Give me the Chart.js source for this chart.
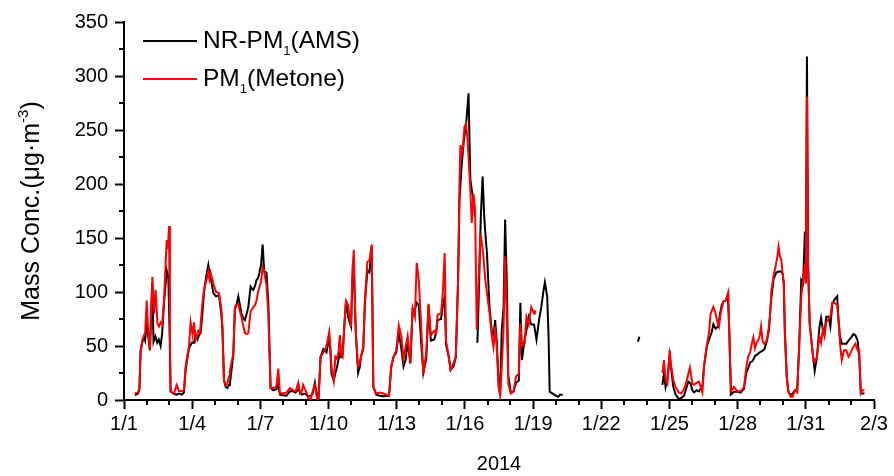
<!DOCTYPE html>
<html>
<head>
<meta charset="utf-8">
<script src="https://cdn.jsdelivr.net/npm/chart.js@4/dist/chart.umd.min.js"></script>
<style>
  html, body { margin: 0; padding: 0; background: #fff; }
</style>
</head>
<body>
<canvas id="chart" width="894" height="476"></canvas>
<script>
// Days since 2014-01-01 00:00 and mass concentrations (µg/m3); null breaks the line.
const amsDays = [
  0.48,0.62,0.68,0.73,0.8,0.88,0.93,1.0,1.06,1.14,1.2,1.24,1.3,1.38,1.46,1.53,1.61,1.68,1.76,1.88,1.95,2.01,2.05,
  2.2,2.32,2.42,2.55,2.64,2.71,2.86,2.98,3.08,3.15,3.23,3.3,3.37,3.45,3.52,3.62,3.71,3.76,3.81,3.93,4.05,4.18,4.28,4.33,4.4,4.48,4.55,4.62,4.66,
  4.81,4.88,4.95,5.03,5.1,5.17,5.25,5.32,5.4,5.47,5.57,5.63,5.69,5.77,5.83,5.9,5.95,6.03,6.1,6.17,6.27,6.35,6.45,6.57,6.7,6.79,6.86,7.0,7.15,7.3,7.45,7.55,7.67,7.81,7.96,8.1,8.22,8.3,8.4,8.5,8.56,8.65,8.77,8.91,9.03,9.08,9.13,9.23,9.3,
  9.37,9.44,9.5,9.56,9.62,9.7,9.77,9.86,9.93,9.99,10.05,10.11,10.15,10.2,10.3,10.37,10.43,10.53,10.6,10.71,10.8,10.9,10.97,11.1,11.25,11.4,11.55,11.66,11.76,11.86,11.98,12.09,12.2,12.3,12.4,12.48,12.6,12.7,12.8,12.88,12.97,13.07,13.17,13.3,13.4,13.5,13.65,13.73,13.8,13.95,14.03,14.11,14.17,14.29,14.37,14.5,14.6,14.7,14.76,14.85,14.95,15.05,15.16,15.24,15.3,15.38,15.45,15.5,
  15.55,15.6,15.7,15.78,15.85,15.9,15.97,16.08,16.19,16.26,16.33,16.4,16.48,16.55,16.62,16.7,16.77,16.84,16.91,17.02,17.14,17.25,17.37,17.44,17.51,17.62,17.71,17.81,17.92,18.04,18.15,18.26,18.36,18.45,18.52,18.62,18.68,18.73,18.96,19.1,19.2,19.3,19.4,
  22.61,22.68,23.0,
  23.69,23.76,23.83,23.91,24.01,24.08,24.17,24.27,24.42,24.52,24.64,24.76,24.83,24.93,25.01,25.08,25.2,25.3,25.45,25.52,25.64,25.74,25.85,25.93,26.03,26.14,26.22,26.3,26.37,26.47,26.57,26.64,26.7,26.84,26.99,27.13,27.28,
  27.38,27.47,27.56,27.66,27.77,27.85,27.96,28.05,28.18,28.3,28.38,28.47,28.58,28.7,28.8,28.9,28.98,29.03,29.08,29.16,29.23,29.33,29.42,29.52,29.62,29.7,29.8,29.88,29.96,30.0,30.05,30.1,30.17,30.24,30.32,30.39,30.49,30.6,30.67,30.75,30.82,30.9,31.0,31.08,31.16,31.26,31.38,31.43,31.5,31.58,31.68,31.78,31.88,32.0,32.09,32.18,32.28,32.35,32.42,32.5,32.58
];
const amsValues = [
  4.6,6,10,45,53,58,55,72,60,46,80,109,54,59,53,56,50,62,90,120,114,60,8,
  5.5,5,6,5,7,28,48,53,53,60,56,60,62,80,100,115,125,118,114,99,96,97,80,66,18,12,11,14,15,
  42,84,88,96,88,80,76,74,80,86,105,103,102,106,111,113,117,125,144,119,118,90,11,9,10,15,5,4.5,4,8,8,7,10,5,6,3.5,4,6,16,3,2,40,47,44,58,45,24,18,25,
  30,38,43,40,42,70,92,77,72,68,110,130,95,62,25,30,40,48,90,120,118,142,12,5,4,3.5,3.7,3.7,31,40,44,62,48,31,38,55,34,84,84,90,88,55,25,38,88,55,56,62,74,75,88,95,51,40,28,31,40,111,185,215,240,255,284,204,195,185,170,null,
  53,90,170,207,170,154,136,87,62,60,74,55,18,5,65,85,167,111,22,6.8,8,16,18,90,37,55,65,77,70,70,56,74,86,100,109,96,60,7.7,4.6,3,5,4.6,null,
  54,58.6,null,
  14,25,12,20,41,28,12,5,0.6,2,4,12,17,15,9,7,9,8,13,31,49,56,62,70,66,68,79,88,91,92,96,60,5,7.7,7.7,6.8,10.5,
  25,30,35,36,41,42,44,45,47,56,65,92,112,118,119,119,117,108,62,21.6,7.7,4.6,6,9,9,46,111,108,156,108,318,126,71,56,40,27,40,68,76,65,62,77,77,68,88,93,96,77,59,52,52,52,55,58,61,60,55,40,6,6,6
];

const metDays = [
  0.48,0.62,0.68,0.73,0.8,0.88,0.93,1.0,1.06,1.14,1.2,1.25,1.32,1.39,1.47,1.54,1.61,1.68,1.76,1.88,1.93,1.98,2.02,2.05,
  2.2,2.32,2.42,2.55,2.64,2.71,2.86,2.93,3.02,3.08,3.15,3.27,3.34,3.45,3.52,3.64,3.71,3.76,3.81,3.93,4.05,4.18,4.28,4.33,4.4,4.48,4.55,4.62,4.66,
  4.81,4.88,4.95,5.03,5.1,5.17,5.25,5.32,5.4,5.47,5.57,5.63,5.69,5.77,5.83,5.9,5.95,6.03,6.1,6.17,6.27,6.35,6.45,6.57,6.7,6.79,6.86,7.0,7.15,7.3,7.45,7.55,7.67,7.75,7.81,7.88,7.96,8.05,8.1,8.22,8.3,8.4,8.5,8.56,8.65,8.77,8.91,9.03,9.08,9.13,9.23,9.3,
  9.37,9.44,9.5,9.56,9.62,9.7,9.77,9.86,9.93,9.99,10.05,10.11,10.15,10.2,10.3,10.37,10.43,10.53,10.6,10.71,10.8,10.9,10.97,11.1,11.25,11.4,11.55,11.66,11.76,11.86,11.98,12.09,12.2,12.3,12.4,12.48,12.6,12.7,12.8,12.88,12.97,13.07,13.17,13.3,13.4,13.5,13.65,13.73,13.8,13.95,14.03,14.11,14.17,14.29,14.37,14.5,14.6,14.7,14.76,14.8,14.86,14.92,14.98,15.05,15.12,15.24,15.3,15.38,15.45,15.52,
  15.62,15.69,15.8,15.9,15.97,16.08,16.19,16.26,16.33,16.4,16.48,16.55,16.62,16.7,16.77,16.84,16.91,17.02,17.14,17.25,17.37,17.44,17.51,17.62,17.71,17.81,17.92,18.04,18.08,18.2,
  23.69,23.76,23.83,23.91,24.01,24.08,24.17,24.27,24.42,24.52,24.64,24.76,24.83,24.9,25.01,25.08,25.2,25.3,25.45,25.52,25.64,25.74,25.81,25.93,26.03,26.11,26.18,26.25,26.37,26.47,26.59,26.66,26.72,26.84,26.99,27.13,27.28,
  27.38,27.46,27.55,27.62,27.69,27.76,27.83,27.9,27.98,28.03,28.1,28.18,28.26,28.34,28.42,28.49,28.58,28.68,28.75,28.8,28.86,28.92,28.97,29.03,29.08,29.16,29.23,29.33,29.42,29.52,29.62,29.7,29.8,29.88,29.96,30.0,30.05,30.1,30.17,30.24,30.32,30.39,30.49,30.6,30.67,30.75,30.82,30.9,31.0,31.08,31.16,31.26,31.38,31.43,31.5,31.58,31.68,31.78,31.88,32.0,32.09,32.18,32.28,32.35,32.42,32.5,32.58
];
const metValues = [
  6,7,12,45,55,60,62,92,65,46,85,114,80,102,71,68,72,70,92,148,140,161,60,8,
  6,14,8,8,9,31,50,72,60,72,56,64,62,90,102,112,119,112,118,108,100,99,85,68,18,14,15,22,27,
  43,86,88,89,82,77,68,62,61,62,82,84,86,88,92,100,104,110,123,119,106,80,11,11,12,29,6,6,7,11,9,8,16,6,7,14,10,6,2,0.5,8,14,0.5,1,40,44,50,63,50,30,18,40,
  38,45,60,42,40,72,92,88,76,68,120,139,100,62,31,34,40,50,92,128,129,144,12,6,7,6,5,4,31,40,46,69,59,38,50,59,34,85,77,127,111,71,24,44,89,60,64,62,79,80,100,136,55,40,28,34,40,111,200,236,228,236,253,256,240,194,164,191,175,65,
  120,154,136,111,99,81,58,49,68,50,12,4,30,65,133,81,15,6,8,22,24,71,50,52,77,70,86,80,83,null,
  25,37,18,15,46,31,18.5,12,7,6,10,18,24,30,15,14,16,17,7,31,50,62,80,86,80,72,68,80,91,92,100,40,8,12,8,8,12,
  30,40,44,52,58,48,53,55,60,68,54,52,54,62,77,102,115,125,133,142,133,130,119,108,62,22,8,3,3,9,7,46,96,111,126,108,281,126,71,56,40,35,40,59,53,65,59,72,75,77,90,90,88,77,53,37,46,46,40,45,49,52,46,46,6,9,9
];

// Axis labels: one date every 3 days from Jan 1 to Feb 3, 2014
const dateLabels = ['1/1','1/4','1/7','1/10','1/13','1/16','1/19','1/22','1/25','1/28','1/31','2/3'];
const yTickValues = [0, 50, 100, 150, 200, 250, 300, 350];
const legendNames = [['NR-PM', '1', '(AMS)'], ['PM', '1', '(Metone)']];

const FONT = "'Liberation Sans', Arial, Helvetica, sans-serif";
Chart.defaults.font.family = FONT;
Chart.defaults.color = '#000';

const toPoints = (days, vals) => days.map((d, i) => ({ x: d, y: vals[i] }));

// Minor ticks, custom legend with subscripts, rotated y title with superscript
const decorations = {
  id: 'decorations',
  afterDraw(chart) {
    const { ctx, chartArea: a, scales: { x, y } } = chart;
    ctx.save();
    ctx.strokeStyle = '#000';
    ctx.lineWidth = 2;
    ctx.beginPath();
    for (let d = x.min; d <= x.max; d += 1) {
      if (d % 3 === 0) continue;
      const px = Math.round(x.getPixelForValue(d));
      ctx.moveTo(px, a.bottom);
      ctx.lineTo(px, a.bottom + 5);
    }
    for (let v = 25; v < y.max; v += 50) {
      const py = Math.round(y.getPixelForValue(v));
      ctx.moveTo(a.left, py);
      ctx.lineTo(a.left - 5, py);
    }
    ctx.stroke();

    // legend
    chart.data.datasets.forEach((ds, i) => {
      const parts = legendNames[i];
      const ly = a.top + 19 + i * 38;
      const lx = a.left + 19;
      ctx.strokeStyle = ds.borderColor;
      ctx.lineWidth = 2;
      ctx.beginPath();
      ctx.moveTo(lx, ly);
      ctx.lineTo(lx + 54, ly);
      ctx.stroke();
      ctx.fillStyle = '#000';
      ctx.textBaseline = 'middle';
      ctx.textAlign = 'left';
      let tx = lx + 60;
      ctx.font = `24.5px ${FONT}`;
      ctx.fillText(parts[0], tx, ly);
      tx += ctx.measureText(parts[0]).width;
      ctx.font = `13px ${FONT}`;
      ctx.fillText(parts[1], tx, ly + 10);
      tx += ctx.measureText(parts[1]).width;
      ctx.font = `24.5px ${FONT}`;
      ctx.fillText(parts[2], tx, ly);
    });

    // y axis title
    const main = 'Mass Conc.(\u03bcg\u00b7m', sup = '-3', tail = ')';
    const big = `25px ${FONT}`, small = `15px ${FONT}`;
    ctx.font = big;
    const w1 = ctx.measureText(main).width;
    const w3 = ctx.measureText(tail).width;
    ctx.font = small;
    const w2 = ctx.measureText(sup).width;
    const total = w1 + w2 + w3;
    ctx.translate(32, (a.top + a.bottom) / 2);
    ctx.rotate(-Math.PI / 2);
    ctx.fillStyle = '#000';
    ctx.textBaseline = 'middle';
    ctx.textAlign = 'left';
    let sx = -total / 2;
    ctx.font = big;
    ctx.fillText(main, sx, 0);
    sx += w1;
    ctx.font = small;
    ctx.fillText(sup, sx, -8);
    sx += w2;
    ctx.font = big;
    ctx.fillText(tail, sx, 0);
    ctx.restore();
  }
};

new Chart(document.getElementById('chart'), {
  type: 'line',
  data: {
    datasets: [
      {
        label: legendNames[0].join(''),
        data: toPoints(amsDays, amsValues),
        borderColor: '#000000',
        borderWidth: 2,
        pointRadius: 0,
        tension: 0,
        spanGaps: false,
        order: 2
      },
      {
        label: legendNames[1].join(''),
        data: toPoints(metDays, metValues),
        borderColor: '#ff0000',
        borderWidth: 2,
        pointRadius: 0,
        tension: 0,
        spanGaps: false,
        order: 1
      }
    ]
  },
  options: {
    responsive: false,
    animation: false,
    events: [],
    layout: { padding: { top: 22, right: 20, left: 0, bottom: 0 } },
    plugins: { legend: { display: false }, tooltip: { enabled: false } },
    scales: {
      x: {
        type: 'linear',
        min: 0,
        max: 33,
        afterBuildTicks: s => { s.ticks = dateLabels.map((_, i) => ({ value: i * 3 })); },
        ticks: {
          callback: v => dateLabels[Math.round(v / 3)],
          font: { size: 20 },
          color: '#000',
          padding: 3,
          maxRotation: 0,
          autoSkip: false
        },
        grid: { drawOnChartArea: false, tickLength: 9, tickWidth: 2, tickColor: '#000' },
        border: { color: '#000', width: 2 },
        title: { display: true, text: '2014', font: { size: 20 }, color: '#000', padding: { top: 4, bottom: 0 } },
        afterFit: s => { s.height = 76; }
      },
      y: {
        min: 0,
        max: 350,
        afterBuildTicks: s => { s.ticks = yTickValues.map(v => ({ value: v })); },
        ticks: { font: { size: 20 }, color: '#000', padding: 7 },
        grid: { drawOnChartArea: false, tickLength: 9, tickWidth: 2, tickColor: '#000' },
        border: { color: '#000', width: 2 },
        afterFit: s => { s.width = 124; }
      }
    }
  },
  plugins: [decorations]
});
</script>
</body>
</html>
